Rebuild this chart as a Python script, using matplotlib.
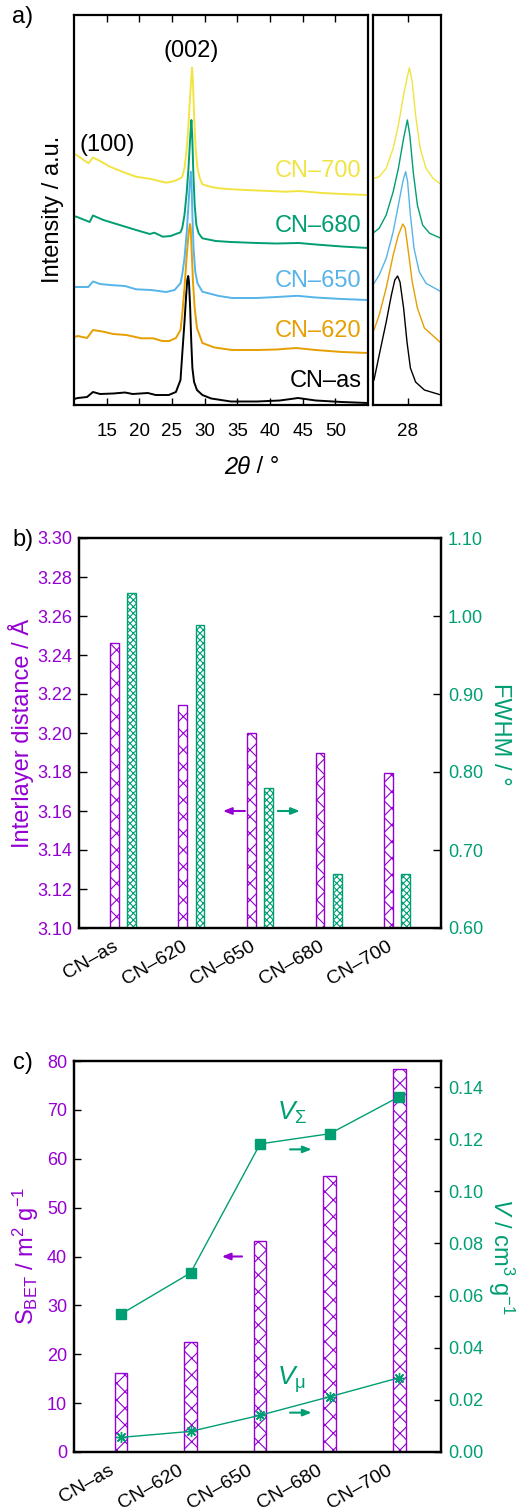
import numpy as np
import matplotlib.pyplot as plt
import matplotlib.transforms as mtransforms

plt.rcParams['font.family'] = ['Liberation Sans', 'DejaVu Sans']
plt.rcParams['mathtext.fontset'] = 'custom'
plt.rcParams['mathtext.rm'] = 'Liberation Sans'
plt.rcParams['mathtext.it'] = 'Liberation Sans:italic'
plt.rcParams['hatch.linewidth'] = 0.8

PURPLE = '#9400d3'
GREEN = '#009e73'

# === DATA ===

# a) XRD patterns (2theta in deg, intensity in a.u., read from the picture)
tt_as = [10.0, 10.6, 12.0, 12.9, 14.0, 16.0, 17.8, 19.0, 21.3, 22.5, 24.5, 25.6, 26.3, 26.56,
         26.91, 27.17, 27.34, 27.48, 27.6, 27.78, 27.95, 28.12, 28.38, 28.82, 29.65, 31.0,
         34.0, 38.0, 41.5, 44.3, 47.0, 51.0, 55.0]
int_as = [6, 7, 8, 13, 11, 11.5, 12.5, 11, 12, 10, 10, 13, 25, 50,
          83, 110, 125, 129, 123, 97, 63, 37, 23, 15, 10, 6.5,
          3.5, 3.5, 4.5, 7, 4.5, 3, 2]

tt_620 = [10.0, 10.6, 12.0, 12.9, 14.5, 16.0, 18.0, 20.3, 22.1, 23.5, 24.6, 25.6, 26.3, 26.56,
          26.91, 27.26, 27.52, 27.74, 27.86, 28.04, 28.21, 28.47, 28.82, 29.65, 31.5, 34.2,
          38.0, 41.0, 44.0, 47.0, 51.0, 55.0]
int_620 = [68, 69, 67, 75, 73.3, 71, 70, 66.7, 66.7, 64, 64, 67, 75, 90,
           117, 150, 170, 181, 177, 150, 123.3, 97, 77, 62, 57.5, 55,
           55, 55.5, 57, 55, 53, 52]

tt_650 = [10.0, 10.6, 12.2, 12.9, 14.0, 15.5, 17.8, 19.5, 21.8, 24.1, 25.4, 26.3, 26.56, 26.91,
          27.26, 27.52, 27.74, 27.88, 27.98, 28.12, 28.3, 28.56, 28.9, 29.65, 31.0, 32.2,
          34.2, 38.0, 41.0, 44.2, 47.0, 51.0, 55.0]
int_650 = [118, 118, 118, 123.5, 121, 120, 119, 115.7, 115, 113, 115, 121.7, 130, 146.7,
           173.3, 200, 223.3, 233.3, 223.3, 190, 156.7, 133.3, 121.7, 113.3, 111, 109,
           107, 107, 108, 109.2, 107.5, 106, 105]

tt_680 = [10.0, 10.6, 12.4, 12.9, 14.5, 17.0, 19.5, 21.6, 22.3, 23.6, 24.8, 25.6, 26.3, 26.56,
          26.91, 27.26, 27.52, 27.78, 27.97, 28.09, 28.26, 28.47, 28.73, 29.08, 29.65, 31.7,
          34.0, 38.0, 41.0, 44.4, 47.0, 51.0, 55.0]
int_680 = [189, 187.7, 183, 189.5, 185, 180, 175, 171, 172.3, 168.3, 169, 171, 172.7, 176.7,
           190, 213.3, 236.7, 266.7, 285, 270, 233.3, 200, 180, 171.7, 166.7, 164,
           163, 162, 161.5, 162, 160.5, 158.5, 157]

tt_700 = [10.0, 10.4, 12.2, 12.9, 14.0, 15.5, 17.5, 19.5, 21.8, 23.0, 24.1, 25.4, 26.3, 26.56,
          26.91, 27.26, 27.52, 27.78, 27.95, 28.07, 28.21, 28.38, 28.61, 28.9, 29.25, 29.65,
          31.0, 32.2, 34.2, 38.0, 42.4, 44.4, 48.0, 51.0, 55.0]
int_700 = [251, 250, 241.7, 247.5, 244, 238.3, 233, 228.3, 226, 224, 222.3, 224, 226.7, 228.3,
           236.7, 256.7, 280, 310, 326.7, 337.3, 323.3, 290, 256.7, 236.7, 226.7, 220.7,
           218, 216.7, 215.7, 214.5, 213.3, 214, 212, 211, 210]

samples = ['CN–as', 'CN–620', 'CN–650', 'CN–680', 'CN–700']

# b) interlayer distance (A) and FWHM (deg)
d_spacing = [3.246, 3.2145, 3.200, 3.1896, 3.1797]
fwhm = [1.029, 0.989, 0.780, 0.669, 0.669]

# c) BET surface (m2/g) and pore volumes (cm3/g)
s_bet = [16.2, 22.6, 43.2, 56.4, 78.3]
v_total = [0.0529, 0.0687, 0.1182, 0.1221, 0.1363]
v_micro = [0.0056, 0.0079, 0.0141, 0.0212, 0.0285]

# === FIGURE ===

W, H = 528, 1512
fig = plt.figure(figsize=(W / 100, H / 100), dpi=100)


def box(l, t, r, b):
    return [l / W, 1 - b / H, (r - l) / W, (b - t) / H]


def ftext(x, y, s, **kw):
    fig.text(x / W, 1 - y / H, s, **kw)


def frame(ax):
    for sp in ax.spines.values():
        sp.set_linewidth(1.6)


# --- a) ---
ax_a = fig.add_axes(box(74, 15, 368, 405))
ax_in = fig.add_axes(box(373, 15, 441, 405))

curves = [(tt_as, int_as, 'black'), (tt_620, int_620, '#e69f00'),
          (tt_650, int_650, '#56b4e9'), (tt_680, int_680, GREEN),
          (tt_700, int_700, '#f0e442')]
label_base = [18, 68, 118, 173, 228]

for (tt, inten, col), name, yb in zip(curves, samples, label_base):
    ax_a.plot(tt, inten, color=col, lw=1.4)
    ax_in.plot(tt, inten, color=col, lw=1.0)
    ax_a.text(54.0, yb, name, color=col, ha='right', va='baseline', fontsize=17)

ax_a.text(15.1, 260, '(100)', ha='center', va='center', fontsize=17)
ax_a.text(28.0, 354, '(002)', ha='center', va='center', fontsize=17)

ax_a.set_xlim(10, 55)
ax_a.set_ylim(0, 390)
ax_a.set_yticks([])
ax_a.set_xticks(range(15, 55, 5))
ax_a.tick_params(axis='x', direction='in', top=True, length=5, width=1,
                 labelsize=13.5, pad=13)

ax_in.set_xlim(26.25, 29.65)
ax_in.set_ylim(0, 390)
ax_in.set_yticks([])
ax_in.set_xticks([28])
ax_in.tick_params(axis='x', direction='in', top=True, length=5, width=1,
                  labelsize=13.5, pad=13)
frame(ax_a)
frame(ax_in)

ftext(23, 17, 'a)', fontsize=17, ha='center', va='center')
ftext(53, 209, 'Intensity / a.u.', fontsize=17, rotation=90, ha='center', va='center')
ftext(250, 467, '2θ', fontsize=17, style='italic', ha='right', va='center')
ftext(250, 467, ' / °', fontsize=17, ha='left', va='center')

x = np.arange(len(samples))


def cat_labels(ax, dx):
    ax.set_xticks(x)
    ax.set_xticklabels(samples, rotation=30, ha='right', rotation_mode='anchor')
    ax.tick_params(axis='x', length=0, labelsize=14, pad=7)
    off = mtransforms.ScaledTranslation(dx / 100, 0, fig.dpi_scale_trans)
    for lab in ax.get_xticklabels():
        lab.set_transform(lab.get_transform() + off)


def arrow(ax, x0, x1, y, col):
    ax.annotate('', xy=(x1, y), xytext=(x0, y),
                arrowprops=dict(arrowstyle='-|>,head_length=0.5,head_width=0.2',
                                color=col, lw=1.5, shrinkA=0, shrinkB=0))


# --- b) ---
ax_b = fig.add_axes(box(79, 538, 441, 928))
ax_b2 = ax_b.twinx()
ax_b.bar(x - 0.125, d_spacing, width=0.13, color='white', edgecolor=PURPLE,
         hatch='xx', lw=1)
ax_b2.bar(x + 0.125, fwhm, width=0.13, color='white', edgecolor=GREEN,
          hatch='xxxxx', lw=1)
ax_b.set_xlim(-0.64, 4.64)
ax_b.set_ylim(3.10, 3.30)
ax_b2.set_ylim(0.60, 1.10)
ax_b.set_yticks(np.round(np.arange(3.10, 3.301, 0.02), 2))
ax_b.set_yticklabels([f'{v:.2f}' for v in ax_b.get_yticks()])
ax_b2.set_yticks(np.round(np.arange(0.60, 1.101, 0.10), 2))
ax_b2.set_yticklabels([f'{v:.2f}' for v in ax_b2.get_yticks()])
ax_b.tick_params(axis='y', direction='in', length=6, width=1, labelsize=13,
                 labelcolor=PURPLE, pad=5)
ax_b2.tick_params(axis='y', direction='in', length=6, width=1, labelsize=13,
                  labelcolor=GREEN, pad=5)
cat_labels(ax_b, -10)
arrow(ax_b, 1.78, 1.46, 3.16, PURPLE)
arrow(ax_b, 2.26, 2.58, 3.16, GREEN)
frame(ax_b)
frame(ax_b2)

ftext(23, 540, 'b)', fontsize=17, ha='center', va='center')
ftext(21, 733, 'Interlayer distance / Å', fontsize=17, color=PURPLE, rotation=90,
      ha='center', va='center')
ftext(500, 734, 'FWHM / °', fontsize=17, color=GREEN, rotation=270,
      ha='center', va='center')

# --- c) ---
ax_c = fig.add_axes(box(74, 1061, 441, 1452))
ax_c2 = ax_c.twinx()
ax_c.bar(x, s_bet, width=0.18, color='white', edgecolor=PURPLE, hatch='xx', lw=1)
ax_c2.plot(x, v_total, color=GREEN, lw=1, marker='s', ms=7.5)
ax_c2.plot(x, v_micro, color=GREEN, lw=1, marker=(8, 2, 0), ms=8, mew=1)
ax_c.set_xlim(-0.675, 4.6)
ax_c.set_ylim(0, 80)
ax_c2.set_ylim(0, 0.15)
ax_c.set_yticks(range(0, 81, 10))
ax_c2.set_yticks(np.round(np.arange(0, 0.141, 0.02), 2))
ax_c2.set_yticklabels([f'{v:.2f}' for v in ax_c2.get_yticks()])
ax_c.tick_params(axis='y', direction='in', length=5, width=1, labelsize=13,
                 labelcolor=PURPLE, pad=5)
ax_c2.tick_params(axis='y', direction='in', length=5, width=1, labelsize=13,
                  labelcolor=GREEN, pad=5)
cat_labels(ax_c, -13)
arrow(ax_c, 1.74, 1.45, 40, PURPLE)
arrow(ax_c2, 2.43, 2.74, 0.1161, GREEN)
arrow(ax_c2, 2.43, 2.74, 0.0151, GREEN)
ax_c2.text(2.24, 0.1274, r'$V_{\Sigma}$', color=GREEN, fontsize=19, ha='left', va='baseline')
ax_c2.text(2.24, 0.0257, r'$V_{\mathrm{\mu}}$', color=GREEN, fontsize=19, ha='left',
           va='baseline')
frame(ax_c)
frame(ax_c2)

ftext(23, 1063, 'c)', fontsize=17, ha='center', va='center')
ftext(26, 1256, r'S$_{\mathrm{BET}}$ / m$^{2}$ g$^{-1}$', fontsize=17, color=PURPLE,
      rotation=90, ha='center', va='center')
ftext(501, 1256, r'$V$ / cm$^{3}$ g$^{-1}$', fontsize=17, color=GREEN, rotation=270,
      ha='center', va='center')

fig.savefig('out.png', dpi=100)
